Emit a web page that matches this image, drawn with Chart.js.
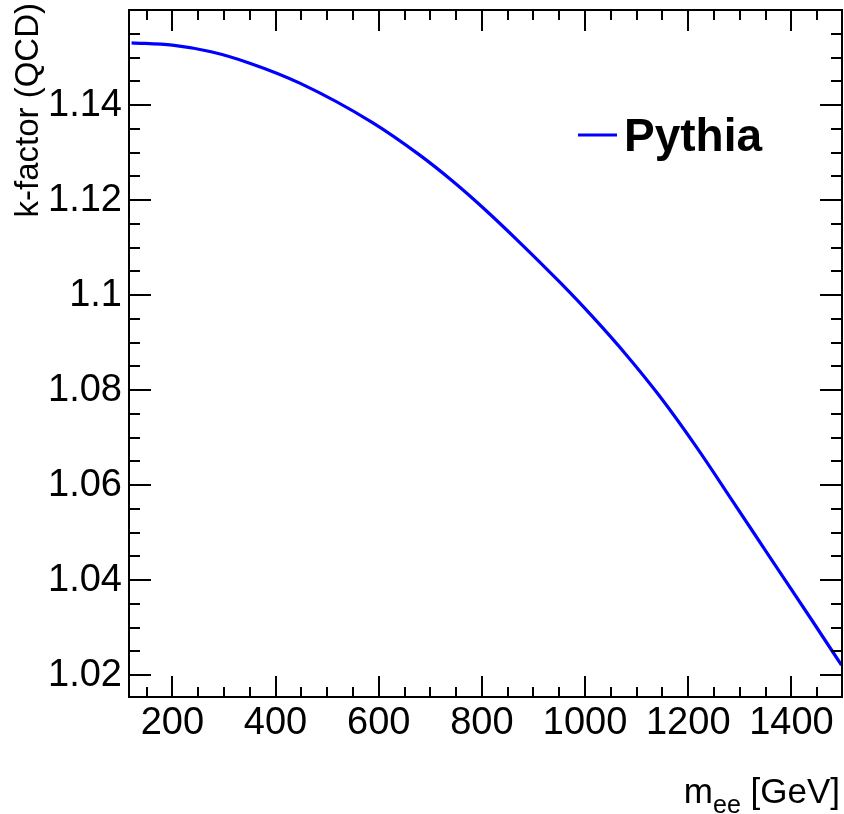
<!DOCTYPE html>
<html>
<head>
<meta charset="utf-8">
<script src="https://cdn.jsdelivr.net/npm/chart.js@4"></script>
<style>
html,body{margin:0;padding:0;background:#fff;}
#wrap{width:844px;height:814px;position:relative;}
</style>
</head>
<body>
<div id="wrap"><canvas id="c" width="844" height="814"></canvas></div>
<script>
// ---- data ----
const massGeV = [121, 200, 275, 350, 447, 588, 679, 743, 809, 873, 951, 1014, 1080, 1144, 1216, 1285, 1351, 1440, 1497];
const kFactor = [1.1531, 1.1526, 1.1512, 1.1488, 1.1446, 1.1363, 1.1295, 1.1240, 1.1177, 1.1111, 1.1027, 1.0955, 1.0874, 1.0788, 1.0680, 1.0568, 1.0460, 1.0315, 1.0221];
const xTickValues = [200, 400, 600, 800, 1000, 1200, 1400];
const yTickValues = [1.02, 1.04, 1.06, 1.08, 1.10, 1.12, 1.14];
const seriesName = "Pythia";
const xTitleMain = "m";
const xTitleSub = "ee";
const xTitleUnit = " [GeV]";
const yTitle = "k-factor (QCD)";

const FONT = "'Liberation Sans', Arial, Helvetica, sans-serif";
const points = massGeV.map((x, i) => ({x: x, y: kFactor[i]}));

const frameAndTicks = {
  id: 'frameAndTicks',
  afterDraw(chart) {
    const ctx = chart.ctx, a = chart.chartArea;
    const xs = chart.scales.x, ys = chart.scales.y;
    ctx.save();
    ctx.strokeStyle = '#000';
    ctx.lineWidth = 2;
    ctx.beginPath();
    // x ticks (major every 200, minor every 50), bottom & top
    for (let v = 150; v <= xs.max; v += 50) {
      if (v < xs.min) continue;
      const px = Math.round(xs.getPixelForValue(v));
      const len = (v % 200 === 0) ? 21 : 10;
      ctx.moveTo(px, a.bottom); ctx.lineTo(px, a.bottom - len);
      ctx.moveTo(px, a.top); ctx.lineTo(px, a.top + len);
    }
    // y ticks (major every 0.02, minor every 0.005), left & right
    for (let i = 0; i <= 40; i++) {
      const v = 1.015 + i * 0.005;
      if (v < ys.min || v > ys.max) continue;
      const py = Math.round(ys.getPixelForValue(v));
      const isMajor = Math.abs(Math.round(v * 1000) % 20) === 0;
      const len = isMajor ? 22 : 11;
      ctx.moveTo(a.left, py); ctx.lineTo(a.left + len, py);
      ctx.moveTo(a.right, py); ctx.lineTo(a.right - len, py);
    }
    ctx.stroke();
    ctx.strokeRect(a.left, a.top, a.right - a.left, a.bottom - a.top);

    // axis titles
    ctx.fillStyle = '#000';
    ctx.textBaseline = 'alphabetic';
    const mainFont = '35px ' + FONT, subFont = '25px ' + FONT;
    ctx.font = mainFont; const wM = ctx.measureText(xTitleMain).width;
    const wU = ctx.measureText(xTitleUnit).width;
    ctx.font = subFont; const wS = ctx.measureText(xTitleSub).width;
    let x0 = 840 - (wM + wS + wU);
    const base = 803;
    ctx.font = mainFont; ctx.textAlign = 'left';
    ctx.fillText(xTitleMain, x0, base);
    ctx.font = subFont; ctx.fillText(xTitleSub, x0 + wM, base + 10);
    ctx.font = mainFont; ctx.fillText(xTitleUnit, x0 + wM + wS, base);

    ctx.save();
    ctx.translate(38, 3);
    ctx.rotate(-Math.PI / 2);
    ctx.font = '33px ' + FONT;
    ctx.textAlign = 'right';
    ctx.fillText(yTitle, 0, 0);
    ctx.restore();

    // legend
    ctx.strokeStyle = chart.data.datasets[0].borderColor;
    ctx.lineWidth = 3;
    ctx.beginPath(); ctx.moveTo(578, 135); ctx.lineTo(617, 135); ctx.stroke();
    ctx.font = 'bold 46px ' + FONT;
    ctx.textAlign = 'left';
    ctx.fillText(chart.data.datasets[0].label, 624, 151);
    ctx.restore();
  }
};

new Chart(document.getElementById('c'), {
  type: 'line',
  data: { datasets: [{
    label: seriesName,
    data: points,
    borderColor: '#0000ff',
    borderWidth: 3.2,
    pointRadius: 0,
    fill: false,
    cubicInterpolationMode: 'monotone'
  }]},
  options: {
    responsive: false,
    animation: false,
    layout: { padding: { left: 0, right: 2, top: 10, bottom: 0 } },
    plugins: { legend: { display: false }, tooltip: { enabled: false } },
    scales: {
      x: {
        type: 'linear', min: 116, max: 1498,
        afterBuildTicks: s => { s.ticks = xTickValues.map(v => ({value: v})); },
        afterFit: s => { s.height = 117; s.paddingLeft = 0; s.paddingRight = 0; },
        grid: { display: false, drawTicks: false },
        border: { display: false },
        ticks: { color: '#000', font: { family: FONT, size: 38 }, padding: 4, maxRotation: 0, autoSkip: false,
                 callback: v => String(v) }
      },
      y: {
        type: 'linear', min: 1.0154, max: 1.16,
        afterBuildTicks: s => { s.ticks = yTickValues.map(v => ({value: v})); },
        afterFit: s => { s.width = 129; s.paddingTop = 0; s.paddingBottom = 0; },
        grid: { display: false, drawTicks: false },
        border: { display: false },
        ticks: { color: '#000', font: { family: FONT, size: 38 }, padding: 7, autoSkip: false,
                 callback: v => String(Number(v.toFixed(3))) }
      }
    }
  },
  plugins: [frameAndTicks]
});
</script>
</body>
</html>
